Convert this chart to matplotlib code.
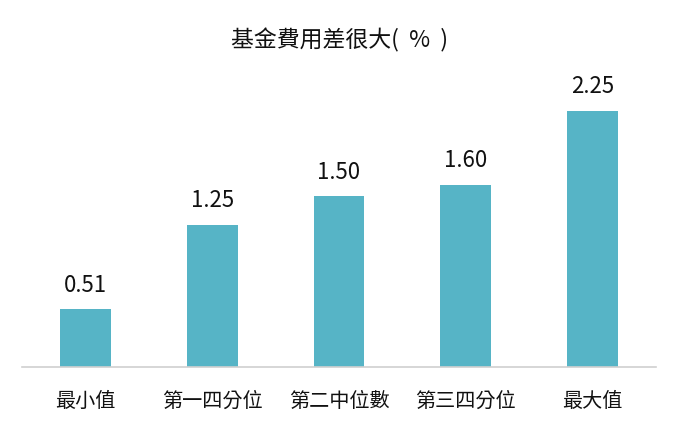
import matplotlib
matplotlib.use("Agg")
import matplotlib.pyplot as plt

plt.rcParams['font.family'] = ['Noto Sans CJK TC', 'DejaVu Sans']

categories = ['最小值', '第一四分位', '第二中位數', '第三四分位', '最大值']
values = [0.51, 1.25, 1.50, 1.60, 2.25]
labels = ['0.51', '1.25', '1.50', '1.60', '2.25']

fig = plt.figure(figsize=(6.8, 4.32), dpi=100)
ax = fig.add_axes([22 / 680, 0.150, 634 / 680, 0.659])

bars = ax.bar(range(len(values)), values, width=0.4, color='#56B4C6')
for b, lab in zip(bars, labels):
    ax.annotate(lab, xy=(b.get_x() + b.get_width() / 2, b.get_height()),
                xytext=(0, 9), textcoords='offset points',
                ha='center', va='bottom', fontsize=16, color='#111111')

ax.set_xlim(-0.5, 4.5)
ax.set_ylim(0, 2.5)
ax.set_xticks(range(len(categories)))
ax.set_xticklabels(categories, fontsize=14.5, color='#111111')
ax.tick_params(axis='x', length=0, pad=17)
ax.set_yticks([])
for s in ['top', 'right', 'left']:
    ax.spines[s].set_visible(False)
ax.spines['bottom'].set_color('#d0d0d0')
ax.spines['bottom'].set_linewidth(1.2)

fig.text(0.5, 1 - 40 / 432, '基金費用差很大(  %  )', ha='center', va='center',
         fontsize=16.5, color='#111111')

fig.savefig('out.png', dpi=100)
